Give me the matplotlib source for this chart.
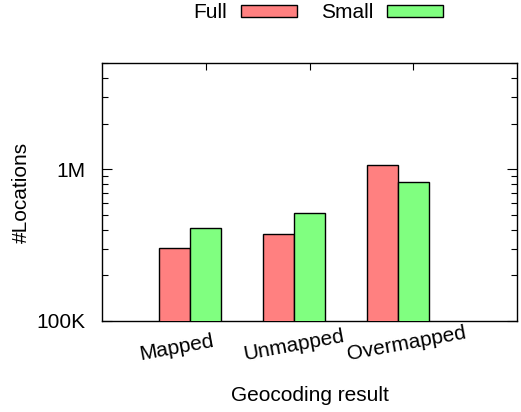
import matplotlib
matplotlib.use("Agg")
import matplotlib.pyplot as plt
import matplotlib.transforms as mtransforms
from matplotlib.ticker import LogLocator, FixedLocator, NullFormatter
import numpy as np

plt.rcParams['font.family'] = ['Liberation Sans', 'DejaVu Sans']

categories = ["Mapped", "Unmapped", "Overmapped"]
full_values = [302000, 373000, 1070000]
small_values = [409000, 514000, 824000]
series_names = ["Full", "Small"]
ytick_values = [1e5, 1e6]
ytick_labels = ["100K", "1M"]

fig = plt.figure(figsize=(5.21, 4.12), dpi=100)
ax = fig.add_axes([102/521, 1 - 321/412, (517-102)/521, (321-63.3)/412])

x = np.arange(len(categories))
w = 0.3
ax.bar(x - w, full_values, width=w, color='#ff8080', edgecolor='black', linewidth=1.0,
       label=series_names[0], zorder=3)
ax.bar(x, small_values, width=w, color='#80ff80', edgecolor='black', linewidth=1.0,
       label=series_names[1], zorder=3)

ax.set_yscale('log')
ax.set_ylim(1e5, 5e6)
ax.set_xlim(-1, 3)

ax.yaxis.set_major_locator(FixedLocator(ytick_values))
ax.set_yticklabels(ytick_labels)
ax.yaxis.set_minor_locator(LogLocator(base=10, subs=np.arange(2, 10)))
ax.yaxis.set_minor_formatter(NullFormatter())
ax.tick_params(axis='y', which='major', direction='in', length=7, width=0.8,
               left=True, right=True, labelsize=15, pad=12)
ax.tick_params(axis='y', which='minor', direction='in', length=4, width=0.8,
               left=True, right=True)

ax.set_xticks(x)
ax.set_xticklabels(categories, rotation=10.5, rotation_mode='anchor',
                   ha='left', va='baseline', fontsize=15)
ax.tick_params(axis='x', which='both', direction='in', length=5, width=0.8,
               bottom=False, top=True, pad=0)
offset = mtransforms.ScaledTranslation(-65/100, -39/100, fig.dpi_scale_trans)
for lbl in ax.get_xticklabels():
    lbl.set_transform(lbl.get_transform() + offset)

for s in ax.spines.values():
    s.set_linewidth(1.0)

ax.set_xlabel("Geocoding result", fontsize=15)
ax.xaxis.set_label_coords(0.502, (321 - 386) / 257.7)
ax.set_ylabel("#Locations", fontsize=15)
ax.yaxis.set_label_coords((31 - 102) / 415, 0.5)

ax.legend(ncol=2, markerfirst=False, frameon=False, fontsize=15,
          handlelength=2.7, handleheight=0.52, handletextpad=0.65,
          columnspacing=1.15, loc='center', bbox_to_anchor=(0.611, 0.969),
          bbox_transform=fig.transFigure, borderpad=0, borderaxespad=0)

fig.savefig("out.png", dpi=100)
